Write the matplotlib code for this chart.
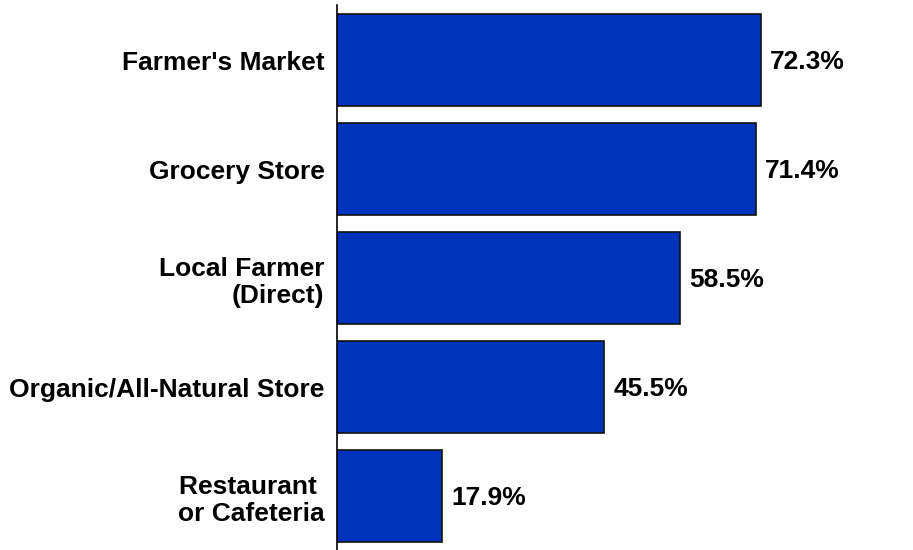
import matplotlib
matplotlib.use("Agg")
import matplotlib.pyplot as plt

# data
categories = ["Farmer's Market", "Grocery Store", "Local Farmer\n(Direct)",
              "Organic/All-Natural Store", "Restaurant \nor Cafeteria"]
values = [72.3, 71.4, 58.5, 45.5, 17.9]
value_labels = ["72.3%", "71.4%", "58.5%", "45.5%", "17.9%"]

plt.rcParams['font.family'] = ['Liberation Sans', 'DejaVu Sans']

fig = plt.figure(figsize=(9.13, 5.5), dpi=100)
ax = fig.add_axes([337 / 913, 0, 576 / 913, 545 / 550])

ypos = list(range(len(categories)))
ax.barh(ypos, values, height=0.845, color='#0033BB', edgecolor='#111111', linewidth=1.2)

ax.set_xlim(0, 576 / 5.864)
ax.set_ylim(4.495, -0.505)

for y, v, lab in zip(ypos, values, value_labels):
    ax.text(v + 1.6, y + 0.02, lab, va='center', ha='left', fontsize=19, fontweight='bold')

ax.set_yticks(ypos)
ax.set_yticklabels(categories, fontsize=19, fontweight='bold', multialignment='right')
ax.tick_params(axis='y', length=0, pad=9)
ax.set_xticks([])

for side in ['top', 'right', 'bottom']:
    ax.spines[side].set_visible(False)
ax.spines['left'].set_linewidth(1.2)

fig.savefig("out.png", dpi=100)
